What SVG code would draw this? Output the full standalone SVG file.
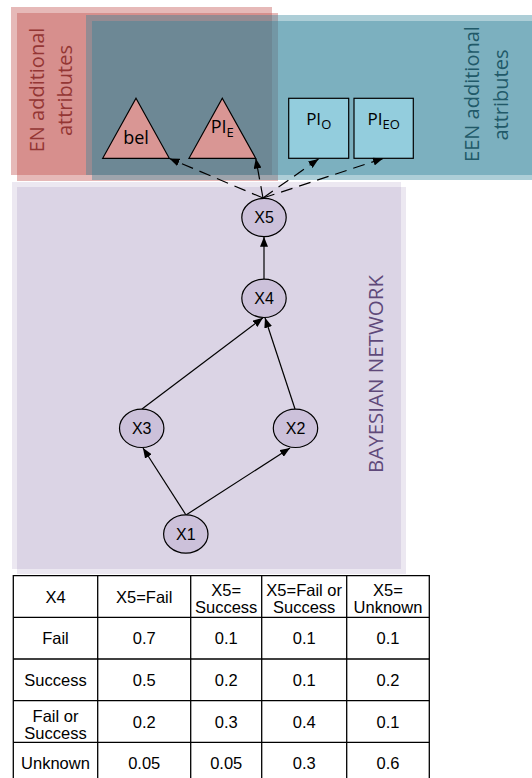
<svg xmlns="http://www.w3.org/2000/svg" width="532" height="778" viewBox="0 0 532 778">
  <style>
    .red { fill: #C0504D; fill-opacity: 0.4; }
    .teal { fill: #31859C; fill-opacity: 0.4; }
    .purple { fill: #8064A2; fill-opacity: 0.15; }
    .lbl { font-family: "Open Sans", "Noto Sans", sans-serif; }
    .arial { font-family: "Liberation Sans", Arial, sans-serif; fill: #000; }
    .node ellipse { fill: #CCC1DA; stroke: #000; stroke-width: 1.2; }
    .tri { fill: #D99694; stroke: #000; stroke-width: 1.2; }
    .box { fill: #93CDDD; stroke: #000; stroke-width: 1.2; }
    .edge { stroke: #000; stroke-width: 1.2; fill: none; marker-end: url(#ah); }
    .dash { stroke-dasharray: 12 7; }
    .grid line { stroke: #000; stroke-width: 1.3; }
  </style>
  <defs>
    <marker id="ah" viewBox="0 0 10 8" refX="10" refY="4" markerWidth="10" markerHeight="8" markerUnits="userSpaceOnUse" orient="auto">
      <path d="M0,0 L10,4 L0,8 z" fill="#000"/>
    </marker>
  </defs>

  <!-- background panels: each is two offset translucent sheets -->
  <g id="panel-en">
    <rect class="red" x="11" y="7" width="261" height="168"/>
    <rect class="red" x="17" y="13" width="261" height="168"/>
  </g>
  <g id="panel-een">
    <rect class="teal" x="86" y="15" width="460" height="160"/>
    <rect class="teal" x="92" y="21" width="460" height="159"/>
  </g>
  <g id="panel-bn">
    <rect class="purple" x="12" y="182" width="389" height="387"/>
    <rect class="purple" x="17" y="187" width="389" height="387"/>
  </g>

  <!-- panel captions -->
  <g class="lbl" font-size="20" text-anchor="middle">
    <text fill="#943634" transform="translate(44,90) rotate(-90)">EN additional</text>
    <text fill="#943634" transform="translate(72,90.5) rotate(-90)">attributes</text>
    <text fill="#215968" transform="translate(478.5,94) rotate(-90)">EEN additional</text>
    <text fill="#215968" transform="translate(508,95) rotate(-90)">attributes</text>
    <text fill="#5F497A" font-size="20.5" transform="translate(382.7,374) rotate(-90)">BAYESIAN NETWORK</text>
  </g>

  <!-- attribute nodes -->
  <g id="bel">
    <polygon class="tri" points="136,98.3 169.3,158.3 102.7,158.3"/>
    <text class="lbl" x="136" y="144" font-size="18" text-anchor="middle">bel</text>
  </g>
  <g id="pi-e">
    <polygon class="tri" points="222.3,98.3 255.7,158.3 189,158.3"/>
    <text class="lbl" x="222.3" y="132.7" font-size="18" text-anchor="middle">PI<tspan font-size="13" dy="4">E</tspan></text>
  </g>
  <g id="pi-o">
    <rect class="box" x="288.7" y="98.3" width="60" height="60"/>
    <text class="lbl" x="318.7" y="125" font-size="17" text-anchor="middle">PI<tspan font-size="13" dy="4">O</tspan></text>
  </g>
  <g id="pi-eo">
    <rect class="box" x="354" y="98.3" width="59.3" height="60"/>
    <text class="lbl" x="383.6" y="125" font-size="17" text-anchor="middle">PI<tspan font-size="13" dy="4">EO</tspan></text>
  </g>

  <!-- connectors -->
  <g id="connectors">
    <path class="edge dash" d="M263,198 L169.5,158.5"/>
    <path class="edge dash" d="M263,198 L255.8,158.5"/>
    <path class="edge dash" d="M263,198 L318.5,159"/>
    <path class="edge dash" d="M263,198 L383,158.5"/>
    <path class="edge" d="M264,279 L264,236.8"/>
    <path class="edge" d="M142,409 L263,317.8"/>
    <path class="edge" d="M295,409 L265,317.8"/>
    <path class="edge" d="M186,515 L143,448"/>
    <path class="edge" d="M186,515 L290,448"/>
  </g>

  <!-- bayesian network nodes -->
  <g id="x5" class="node">
    <ellipse cx="264" cy="217.5" rx="22.2" ry="19.2"/>
    <text class="arial" x="264" y="223.2" font-size="16" text-anchor="middle">X5</text>
  </g>
  <g id="x4" class="node">
    <ellipse cx="264" cy="298.3" rx="22.2" ry="19.2"/>
    <text class="arial" x="264" y="304" font-size="16" text-anchor="middle">X4</text>
  </g>
  <g id="x3" class="node">
    <ellipse cx="141.7" cy="428.3" rx="22.2" ry="19.2"/>
    <text class="arial" x="141.7" y="434" font-size="16" text-anchor="middle">X3</text>
  </g>
  <g id="x2" class="node">
    <ellipse cx="295.5" cy="428.3" rx="22.2" ry="19.2"/>
    <text class="arial" x="295.5" y="434" font-size="16" text-anchor="middle">X2</text>
  </g>
  <g id="x1" class="node">
    <ellipse cx="185.8" cy="534" rx="22.2" ry="19.2"/>
    <text class="arial" x="185.8" y="539.7" font-size="16" text-anchor="middle">X1</text>
  </g>

  <!-- conditional probability table for X5 given X4 -->
  <g id="cpt">
    <rect x="13.3" y="575.7" width="416" height="210" fill="#fff"/>
    <g class="grid">
      <line x1="13.3" y1="575.7" x2="429.3" y2="575.7"/>
      <line x1="13.3" y1="617.3" x2="429.3" y2="617.3"/>
      <line x1="13.3" y1="659" x2="429.3" y2="659"/>
      <line x1="13.3" y1="700.7" x2="429.3" y2="700.7"/>
      <line x1="13.3" y1="742.3" x2="429.3" y2="742.3"/>
      <line x1="13.3" y1="575" x2="13.3" y2="778"/>
      <line x1="97.7" y1="575" x2="97.7" y2="778"/>
      <line x1="190.7" y1="575" x2="190.7" y2="778"/>
      <line x1="261.7" y1="575" x2="261.7" y2="778"/>
      <line x1="346.7" y1="575" x2="346.7" y2="778"/>
      <line x1="429.3" y1="575" x2="429.3" y2="778"/>
    </g>
    <g class="arial" font-size="16.5" text-anchor="middle">
      <text x="55.5" y="602.5">X4</text>
      <text x="144.2" y="602.5">X5=Fail</text>
      <text x="226.2" y="595.5">X5=</text>
      <text x="226.2" y="612.5">Success</text>
      <text x="304.2" y="595.5">X5=Fail or</text>
      <text x="304.2" y="612.5">Success</text>
      <text x="388" y="595.5">X5=</text>
      <text x="388" y="612.5">Unknown</text>

      <text x="55.5" y="643.5">Fail</text>
      <text x="144.2" y="643.5">0.7</text>
      <text x="226.2" y="643.5">0.1</text>
      <text x="304.2" y="643.5">0.1</text>
      <text x="388" y="643.5">0.1</text>

      <text x="55.5" y="685.5">Success</text>
      <text x="144.2" y="685.5">0.5</text>
      <text x="226.2" y="685.5">0.2</text>
      <text x="304.2" y="685.5">0.1</text>
      <text x="388" y="685.5">0.2</text>

      <text x="55.5" y="721.5">Fail or</text>
      <text x="55.5" y="738.5">Success</text>
      <text x="144.2" y="727.5">0.2</text>
      <text x="226.2" y="727.5">0.3</text>
      <text x="304.2" y="727.5">0.4</text>
      <text x="388" y="727.5">0.1</text>

      <text x="55.5" y="769">Unknown</text>
      <text x="144.2" y="769">0.05</text>
      <text x="226.2" y="769">0.05</text>
      <text x="304.2" y="769">0.3</text>
      <text x="388" y="769">0.6</text>
    </g>
  </g>
</svg>
